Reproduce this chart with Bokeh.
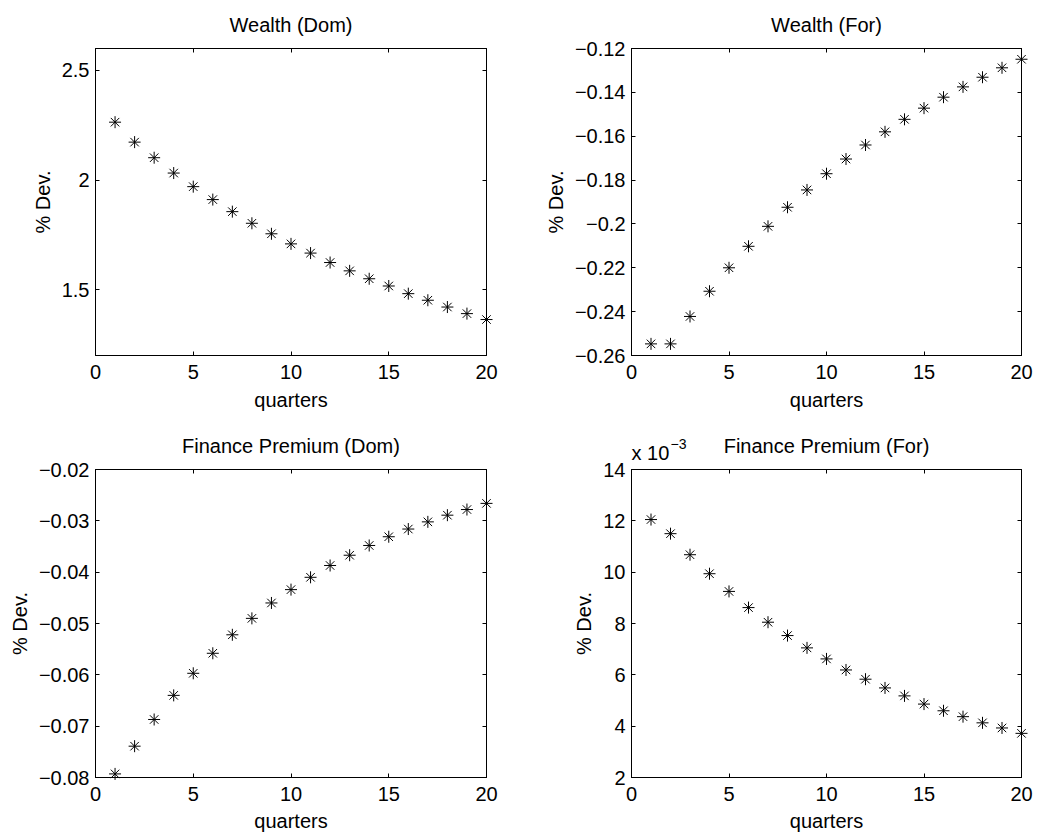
from bokeh.plotting import figure
from bokeh.layouts import column, row
from bokeh.models import Range1d, FixedTicker, CustomJSTickFormatter, LinearAxis
from bokeh.core.properties import value
from bokeh.embed import file_html
from bokeh.resources import INLINE

# Impulse responses over 20 quarters (% deviation from steady state)
quarters = list(range(1, 21))

wealth_dom = [2.264, 2.173, 2.102, 2.032, 1.970, 1.911, 1.856, 1.803, 1.755, 1.709,
              1.667, 1.624, 1.586, 1.550, 1.517, 1.482, 1.452, 1.421, 1.391, 1.364]

wealth_for = [-0.2547, -0.2547, -0.2422, -0.2307, -0.2200, -0.2102, -0.2011, -0.1924,
              -0.1845, -0.1771, -0.1704, -0.1640, -0.1580, -0.1523, -0.1472, -0.1422,
              -0.1375, -0.1331, -0.1288, -0.1249]

premium_dom = [-0.0793, -0.0739, -0.0687, -0.0640, -0.0597, -0.0558, -0.0522, -0.0490,
               -0.0460, -0.0434, -0.0410, -0.0387, -0.0367, -0.0348, -0.0331, -0.0316,
               -0.0302, -0.0289, -0.0278, -0.0266]

premium_for = [0.01205, 0.01150, 0.01068, 0.00994, 0.00925, 0.00862, 0.00805, 0.00753,
               0.00705, 0.00662, 0.00619, 0.00583, 0.00549, 0.00518, 0.00486, 0.00460,
               0.00437, 0.00413, 0.00393, 0.00372]

x_ticks = [0, 5, 10, 15, 20]
y_ticks_wealth_dom = [1.5, 2.0, 2.5]
y_ticks_wealth_for = [-0.26, -0.24, -0.22, -0.20, -0.18, -0.16, -0.14, -0.12]
y_ticks_premium_dom = [-0.08, -0.07, -0.06, -0.05, -0.04, -0.03, -0.02]
y_ticks_premium_for = [0.002, 0.004, 0.006, 0.008, 0.010, 0.012, 0.014]

titles = ["Wealth (Dom)", "Wealth (For)", "Finance Premium (Dom)", "Finance Premium (For)"]

FONT = "Liberation Sans"
FS = "20px"


def tick_formatter(scale=1.0):
    return CustomJSTickFormatter(args=dict(scale=scale), code="""
        const s = parseFloat((tick * scale).toFixed(6)).toString();
        return s.replace('-', '\\u2212');
    """)


def style_axis(ax, ticks, show_labels=True, scale=1.0):
    ax.ticker = FixedTicker(ticks=ticks)
    ax.major_tick_in = 4
    ax.major_tick_out = 0
    ax.minor_tick_line_color = None
    ax.axis_line_color = "black"
    ax.axis_line_width = 1
    ax.major_tick_line_color = "black"
    ax.major_tick_line_width = 1
    ax.major_label_text_font = FONT
    ax.major_label_text_font_size = FS
    ax.major_label_text_color = "black"
    ax.axis_label_text_font = FONT
    ax.axis_label_text_font_size = FS
    ax.axis_label_text_font_style = "normal"
    ax.axis_label_text_color = "black"
    if show_labels:
        ax.formatter = tick_formatter(scale)
    else:
        ax.formatter = CustomJSTickFormatter(code="return ''")
        ax.major_label_standoff = 0


def panel(title, values, y_lo, y_hi, y_ticks, width, height, borders, scale=1.0,
          xlabel_standoff=7):
    left, right, top, bottom = borders
    p = figure(width=width, height=height, output_backend="svg", toolbar_location=None,
               x_range=Range1d(0, 20), y_range=Range1d(y_lo, y_hi),
               min_border_left=left, min_border_right=right,
               min_border_top=top, min_border_bottom=bottom)
    p.grid.visible = False
    p.outline_line_color = "black"
    p.outline_line_width = 1
    p.background_fill_color = "white"
    p.border_fill_color = "white"

    style_axis(p.xaxis[0], x_ticks)
    p.xaxis[0].axis_label = "quarters"
    p.xaxis[0].major_label_standoff = 9
    p.xaxis[0].axis_label_standoff = xlabel_standoff

    style_axis(p.yaxis[0], y_ticks, scale=scale)
    p.yaxis[0].axis_label = "% Dev."
    p.yaxis[0].major_label_standoff = 6
    p.yaxis[0].axis_label_standoff = 5

    top_ax = LinearAxis()
    style_axis(top_ax, x_ticks, show_labels=False)
    p.add_layout(top_ax, "above")
    right_ax = LinearAxis()
    style_axis(right_ax, y_ticks, show_labels=False)
    p.add_layout(right_ax, "right")

    p.scatter(quarters, values, marker="asterisk", size=12,
              line_color="black", line_width=1, level="overlay")

    # panel title, centred over the frame, floated above its top edge
    p.text(x=[10], y=[y_hi], text=[title], y_offset=-24,
           text_font=value(FONT), text_font_size=value(FS), text_color="black",
           text_baseline="alphabetic", text_align="center", level="overlay")
    return p


p1 = panel(titles[0], wealth_dom, 1.2, 2.6, y_ticks_wealth_dom, 518, 420, (95, 32, 48, 65))
p2 = panel(titles[1], wealth_for, -0.26, -0.12, y_ticks_wealth_for, 519, 420, (113, 16, 48, 65))
p3 = panel(titles[2], premium_dom, -0.08, -0.02, y_ticks_premium_dom, 518, 418, (95, 32, 49, 61),
           xlabel_standoff=6)
p4 = panel(titles[3], premium_for, 0.002, 0.014, y_ticks_premium_for, 519, 418, (113, 16, 49, 61),
           scale=1000.0, xlabel_standoff=6)

# exponent marker of the scaled axis, anchored at the top-left corner of the frame
p4.text(x=[0], y=[0.014], text=["x 10"], x_offset=0, y_offset=-17,
        text_font=value(FONT), text_font_size=value(FS), text_color="black",
        text_baseline="alphabetic", text_align="left", level="overlay")
p4.text(x=[0], y=[0.014], text=["\u22123"], x_offset=39, y_offset=-26,
        text_font=value(FONT), text_font_size=value("14px"), text_color="black",
        text_baseline="alphabetic", text_align="left", level="overlay")

layout = column(row(p1, p2), row(p3, p4))

open("out.html", "w").write(file_html(layout, INLINE))
